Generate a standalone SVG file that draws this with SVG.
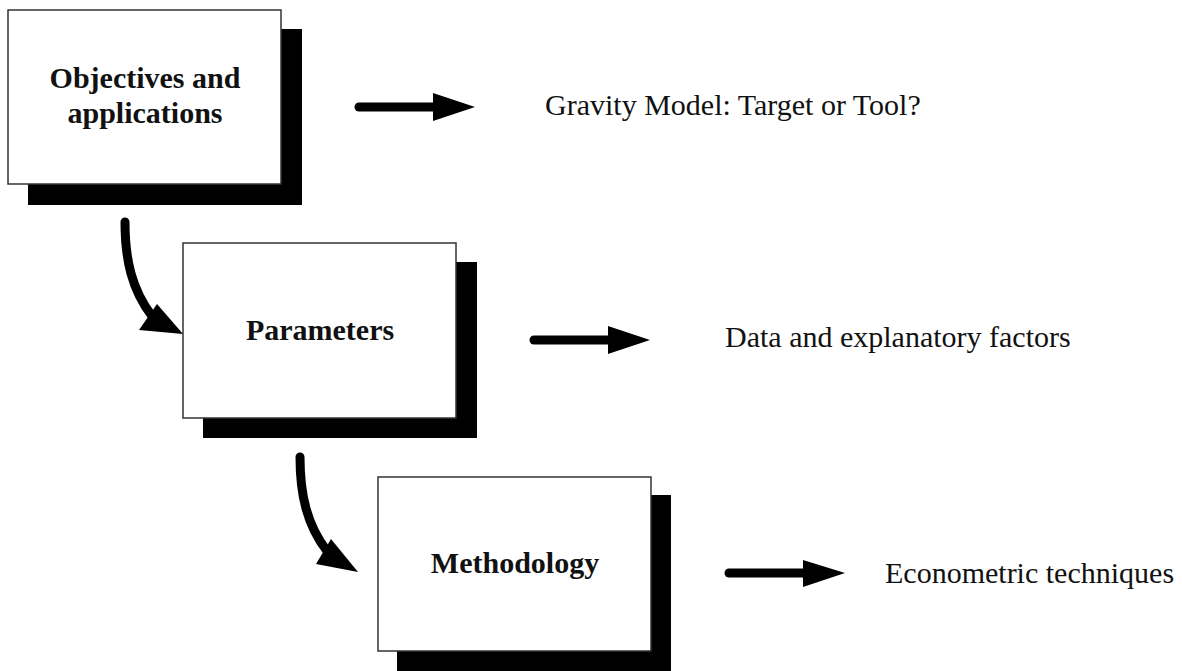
<svg xmlns="http://www.w3.org/2000/svg" width="1182" height="671" viewBox="0 0 1182 671">
<style>
.shadow{fill:#000}
.box{fill:#fff;stroke:#333;stroke-width:1.5}
.bold{font-family:"Liberation Serif",serif;font-weight:bold;font-size:30px;fill:#111;text-anchor:middle}
.lbl{font-family:"Liberation Serif",serif;font-size:30px;fill:#111}
.shaft{fill:none;stroke:#000;stroke-width:9;stroke-linecap:round}
.head{fill:#000}
</style>
<rect width="1182" height="671" fill="#fff"/>
<g id="node-objectives">
<rect class="shadow" x="28" y="29" width="274" height="176"/>
<rect class="box" x="8" y="10" width="273" height="174"/>
<text class="bold" x="145" y="88">Objectives and</text>
<text class="bold" x="145" y="123">applications</text>
</g>
<g id="node-parameters">
<rect class="shadow" x="203" y="262" width="274" height="176"/>
<rect class="box" x="183" y="243" width="273" height="175"/>
<text class="bold" x="320" y="340">Parameters</text>
</g>
<g id="node-methodology">
<rect class="shadow" x="397" y="495" width="274" height="176"/>
<rect class="box" x="378" y="477" width="273" height="174"/>
<text class="bold" x="515" y="573">Methodology</text>
</g>
<g id="label-gravity"><text class="lbl" x="545" y="115">Gravity Model: Target or Tool?</text></g>
<g id="label-data"><text class="lbl" x="725" y="347">Data and explanatory factors</text></g>
<g id="label-econometric"><text class="lbl" x="885" y="583">Econometric techniques</text></g>
<g id="connectors">
<path class="shaft" d="M359,107 H440"/>
<polygon class="head" points="433,93 475,107 433,121"/>
<path class="shaft" d="M534,340 H615"/>
<polygon class="head" points="608,326 650,340 608,354"/>
<path class="shaft" d="M729,573 H810"/>
<polygon class="head" points="803,560 845,573 803,587"/>
<path class="shaft" d="M125,222 C125,260 132,290 152,316"/>
<polygon class="head" points="139,330 157,304 183,334"/>
<path class="shaft" d="M300,457 C300,495 307,525 327,551"/>
<polygon class="head" points="316,564 331,539 358,572"/>
</g>
</svg>
